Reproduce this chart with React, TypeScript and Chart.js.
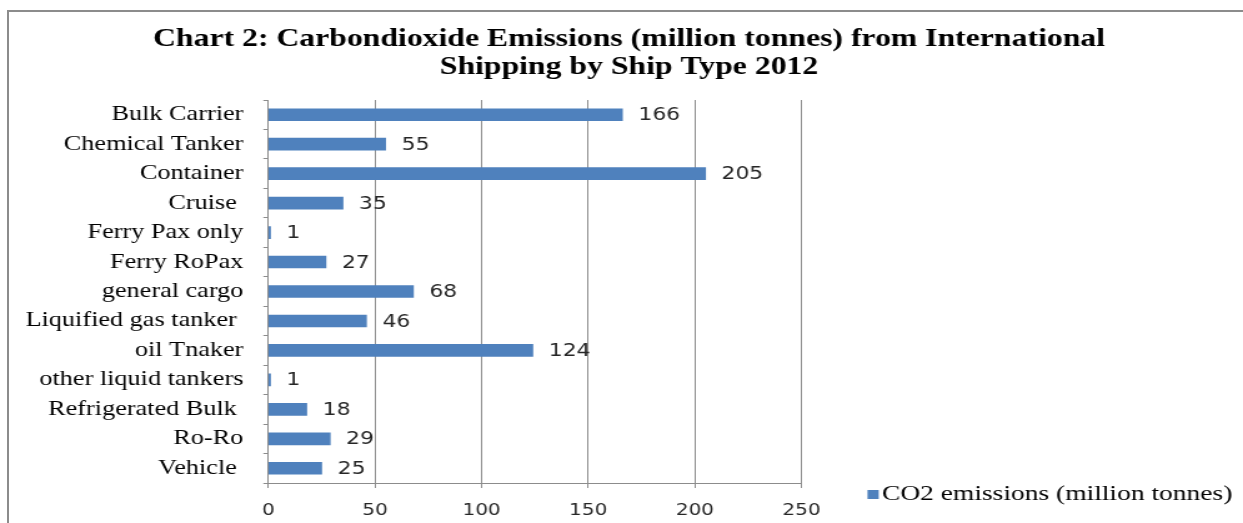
import React, { useEffect, useRef } from 'react';
import { Chart, registerables } from 'chart.js';

Chart.register(...registerables);

const titleLines = [
  'Chart 2: Carbondioxide Emissions (million tonnes) from International',
  'Shipping by Ship Type 2012',
];
const categories = [
  'Bulk Carrier',
  'Chemical Tanker',
  'Container',
  'Cruise ',
  'Ferry Pax only',
  'Ferry RoPax',
  'general cargo',
  'Liquified gas tanker ',
  'oil Tnaker',
  'other liquid tankers',
  'Refrigerated Bulk ',
  'Ro-Ro',
  'Vehicle ',
];
const co2Values = [166, 55, 205, 35, 1, 27, 68, 46, 124, 1, 18, 29, 25];
const seriesLabel = 'CO2 emissions (million tonnes)';
const xTickMin = 0;
const xTickMax = 250;
const xTickStep = 50;

const CANVAS_W = 995;
const CANVAS_H = 523;
const SX = 1243 / CANVAS_W;
const BAR_COLOR = '#4F81BD';
const GRID_COLOR = '#8c8c8c';
const SERIF = '"Liberation Serif", "Times New Roman", serif';
const SANS = '"DejaVu Sans", Verdana, sans-serif';

const dataLabelPlugin = {
  id: 'dataLabels',
  afterDatasetsDraw(chart: any) {
    const ctx = chart.ctx;
    const meta = chart.getDatasetMeta(0);
    ctx.save();
    ctx.font = `17.5px ${SANS}`;
    ctx.fillStyle = '#262626';
    ctx.textAlign = 'left';
    ctx.textBaseline = 'middle';
    meta.data.forEach((bar: any, i: number) => {
      ctx.fillText(String(co2Values[i]), bar.x + 12.8, bar.y + 1);
    });
    ctx.restore();
  },
};

const titleLegendPlugin = {
  id: 'titleLegend',
  afterDraw(chart: any) {
    const ctx = chart.ctx;
    const area = chart.chartArea;
    ctx.save();
    // title
    ctx.font = `bold 25.4px ${SERIF}`;
    ctx.fillStyle = '#000';
    ctx.textAlign = 'center';
    ctx.textBaseline = 'middle';
    const cx = (chart.width + 12) / 2;
    titleLines.forEach((line, i) => {
      ctx.fillText(line, cx, 39.5 + i * 28);
    });
    // legend
    const ly = area.bottom + 11.5;
    const lx = area.right + 52.8;
    ctx.fillStyle = BAR_COLOR;
    ctx.fillRect(lx, ly - 4.5, 9, 9);
    ctx.font = `22px ${SERIF}`;
    ctx.fillStyle = '#000';
    ctx.textAlign = 'left';
    ctx.textBaseline = 'middle';
    ctx.fillText(seriesLabel, lx + 11.6, ly);
    ctx.restore();
  },
};

export default function App() {
  const ref = useRef<HTMLCanvasElement>(null);

  useEffect(() => {
    if (!ref.current) return;
    const chart = new Chart(ref.current, {
      type: 'bar',
      data: {
        labels: categories,
        datasets: [
          {
            label: seriesLabel,
            data: co2Values,
            backgroundColor: BAR_COLOR,
            barThickness: 12,
          },
        ],
      },
      options: {
        indexAxis: 'y',
        responsive: false,
        animation: false,
        devicePixelRatio: 1,
        layout: { padding: { left: 10, right: CANVAS_W - 641.6, top: 100, bottom: 0 } },
        plugins: {
          legend: { display: false },
          title: { display: false },
          tooltip: { enabled: false },
        },
        scales: {
          x: {
            min: xTickMin,
            max: xTickMax,
            ticks: {
              stepSize: xTickStep,
              font: { family: SANS, size: 16 },
              color: '#262626',
              padding: 13,
            },
            grid: { color: GRID_COLOR, tickLength: 5, lineWidth: 1 },
            border: { color: GRID_COLOR },
            afterFit: (scale: any) => {
              scale.height = 40;
            },
          },
          y: {
            ticks: {
              font: { family: SERIF, size: 21 },
              color: '#000',
              padding: 16,
            },
            grid: { drawOnChartArea: false, tickLength: 4, color: GRID_COLOR, offset: true },
            border: { color: GRID_COLOR },
            afterFit: (scale: any) => {
              scale.width = 204.8;
            },
          },
        },
      } as any,
      plugins: [dataLabelPlugin, titleLegendPlugin],
    });
    return () => chart.destroy();
  }, []);

  return (
    <div
      style={{
        position: 'fixed',
        left: 0,
        top: 0,
        width: 1243,
        height: 523,
        overflow: 'hidden',
        background: '#fff',
      }}
    >
      <div
        style={{
          position: 'absolute',
          left: 7,
          top: 10,
          width: 1400,
          height: 700,
          borderLeft: '2px solid #8c8c8c',
          borderTop: '2px solid #8c8c8c',
        }}
      />
      <canvas
        ref={ref}
        width={CANVAS_W}
        height={CANVAS_H}
        style={{
          position: 'absolute',
          left: 0,
          top: 0,
          width: CANVAS_W,
          height: CANVAS_H,
          transform: `scaleX(${SX})`,
          transformOrigin: '0 0',
        }}
      />
    </div>
  );
}
